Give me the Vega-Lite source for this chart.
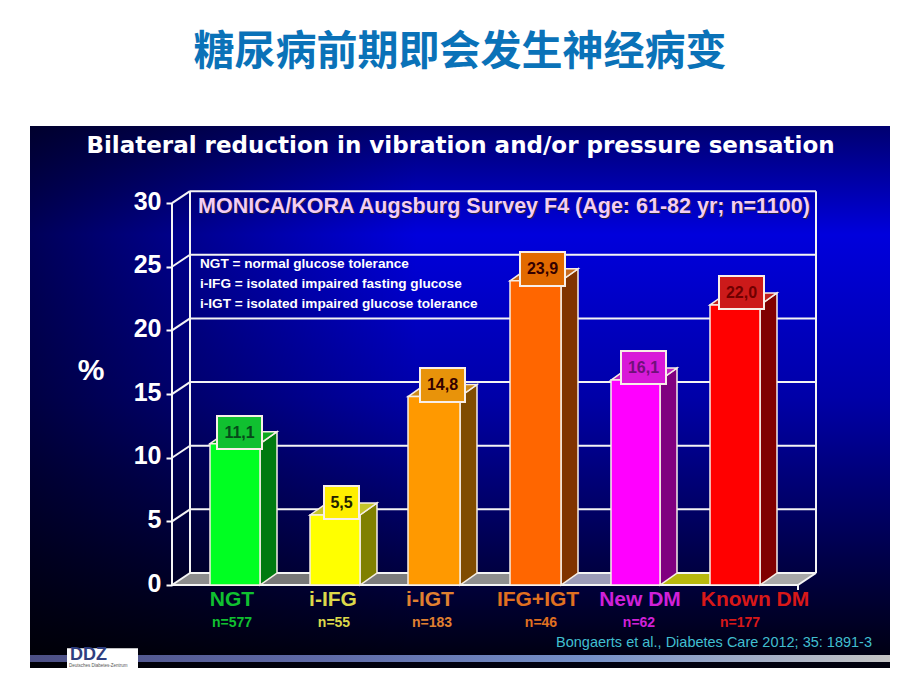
{
"$schema":"https://vega.github.io/schema/vega-lite/v6.json",
"width":860,"height":542,
"autosize":{"type":"none"},
"padding":{"left":30,"top":126,"right":30,"bottom":22},
"background":"#ffffff",
"view":{"stroke":null},
"title":{"text":"糖尿病前期即会发生神经病变","font":"Noto Sans CJK SC","fontSize":41,"fontWeight":"bold","color":"#0a72b8","anchor":"middle","offset":52},
"datasets":{
"panel":[{"a":-1.05,"b":7.55,"c":-6.52,"d":36.06}],
"strip":[{"a":-1.05,"b":7.55,"c":-5.5,"d":-6.05}],
"logo":[{"a":-0.68,"b":0.03,"c":-4.96,"d":-6.52}],
"lines":[
{"u":0.55,"u2":6.81,"v":0.943,"v2":0.943},{"u":0.55,"u2":6.81,"v":5.943,"v2":5.943},{"u":0.55,"u2":6.81,"v":10.943,"v2":10.943},{"u":0.55,"u2":6.81,"v":15.943,"v2":15.943},{"u":0.55,"u2":6.81,"v":20.943,"v2":20.943},{"u":0.55,"u2":6.81,"v":25.943,"v2":25.943},{"u":0.55,"u2":6.81,"v":30.943,"v2":30.943},
{"u":0.37,"u2":0.55,"v":0,"v2":0.943},{"u":0.37,"u2":0.55,"v":5,"v2":5.943},{"u":0.37,"u2":0.55,"v":10,"v2":10.943},{"u":0.37,"u2":0.55,"v":15,"v2":15.943},{"u":0.37,"u2":0.55,"v":20,"v2":20.943},{"u":0.37,"u2":0.55,"v":25,"v2":25.943},{"u":0.37,"u2":0.55,"v":30,"v2":30.943},
{"u":0.37,"u2":0.37,"v":0,"v2":30},{"u":0.55,"u2":0.55,"v":0.943,"v2":30.943},{"u":6.81,"u2":6.81,"v":0.943,"v2":30.943},{"u":6.63,"u2":6.81,"v":0,"v2":0.943},{"u":0.37,"u2":6.63,"v":0,"v2":0},{"u":6.63,"u2":6.63,"v":0,"v2":-0.4}],
"floor":[
{"face":"floor1","u":0.37,"v":0,"v0":0},{"face":"floor1","u":0.55,"v":0.943,"v0":0},{"face":"floor1","u":0.75,"v":0.943,"v0":0},
{"face":"floor2","u":1.25,"v":0,"v0":0},{"face":"floor2","u":1.42,"v":0.943,"v0":0},{"face":"floor2","u":1.75,"v":0.943,"v0":0},
{"face":"floor3","u":2.25,"v":0,"v0":0},{"face":"floor3","u":2.42,"v":0.943,"v0":0},{"face":"floor3","u":2.73,"v":0.943,"v0":0},
{"face":"floor4","u":3.25,"v":0,"v0":0},{"face":"floor4","u":3.42,"v":0.943,"v0":0},{"face":"floor4","u":3.75,"v":0.943,"v0":0},
{"face":"floor5","u":4.26,"v":0,"v0":0},{"face":"floor5","u":4.43,"v":0.943,"v0":0},{"face":"floor5","u":4.76,"v":0.943,"v0":0},
{"face":"floor6","u":5.25,"v":0,"v0":0},{"face":"floor6","u":5.42,"v":0.943,"v0":0},{"face":"floor6","u":5.75,"v":0.943,"v0":0},
{"face":"floor7","u":6.25,"v":0,"v0":0},{"face":"floor7","u":6.42,"v":0.943,"v0":0},{"face":"floor7","u":6.63,"v":0.943,"v0":0},{"face":"floor7","u":6.81,"v":0.943,"v0":0.943}],
"depth":[
{"face":"NGT side","u":1.25,"v":11.1,"v0":0},{"face":"NGT side","u":1.42,"v":12.043,"v0":0.943},
{"face":"NGT top","u":0.75,"v":11.1,"v0":11.1},{"face":"NGT top","u":0.92,"v":12.043,"v0":11.1},{"face":"NGT top","u":1.25,"v":12.043,"v0":11.1},{"face":"NGT top","u":1.42,"v":12.043,"v0":12.043},
{"face":"i-IFG side","u":2.25,"v":5.5,"v0":0},{"face":"i-IFG side","u":2.42,"v":6.443,"v0":0.943},
{"face":"i-IFG top","u":1.75,"v":5.5,"v0":5.5},{"face":"i-IFG top","u":1.92,"v":6.443,"v0":5.5},{"face":"i-IFG top","u":2.25,"v":6.443,"v0":5.5},{"face":"i-IFG top","u":2.42,"v":6.443,"v0":6.443},
{"face":"i-IGT side","u":3.25,"v":14.8,"v0":0},{"face":"i-IGT side","u":3.42,"v":15.743,"v0":0.943},
{"face":"i-IGT top","u":2.73,"v":14.8,"v0":14.8},{"face":"i-IGT top","u":2.9,"v":15.743,"v0":14.8},{"face":"i-IGT top","u":3.25,"v":15.743,"v0":14.8},{"face":"i-IGT top","u":3.42,"v":15.743,"v0":15.743},
{"face":"IFG+IGT side","u":4.26,"v":23.9,"v0":0},{"face":"IFG+IGT side","u":4.43,"v":24.843,"v0":0.943},
{"face":"IFG+IGT top","u":3.75,"v":23.9,"v0":23.9},{"face":"IFG+IGT top","u":3.92,"v":24.843,"v0":23.9},{"face":"IFG+IGT top","u":4.26,"v":24.843,"v0":23.9},{"face":"IFG+IGT top","u":4.43,"v":24.843,"v0":24.843},
{"face":"New DM side","u":5.25,"v":16.1,"v0":0},{"face":"New DM side","u":5.42,"v":17.043,"v0":0.943},
{"face":"New DM top","u":4.76,"v":16.1,"v0":16.1},{"face":"New DM top","u":4.93,"v":17.043,"v0":16.1},{"face":"New DM top","u":5.25,"v":17.043,"v0":16.1},{"face":"New DM top","u":5.42,"v":17.043,"v0":17.043},
{"face":"Known DM side","u":6.25,"v":22,"v0":0},{"face":"Known DM side","u":6.42,"v":22.943,"v0":0.943},
{"face":"Known DM top","u":5.75,"v":22,"v0":22},{"face":"Known DM top","u":5.92,"v":22.943,"v0":22},{"face":"Known DM top","u":6.25,"v":22.943,"v0":22},{"face":"Known DM top","u":6.42,"v":22.943,"v0":22.943}],
"bars":[
{"group":"NGT","value":11.1,"base":0,"start":0.75,"end":1.25},
{"group":"i-IFG","value":5.5,"base":0,"start":1.75,"end":2.25},
{"group":"i-IGT","value":14.8,"base":0,"start":2.73,"end":3.25},
{"group":"IFG+IGT","value":23.9,"base":0,"start":3.75,"end":4.26},
{"group":"New DM","value":16.1,"base":0,"start":4.76,"end":5.25},
{"group":"Known DM","value":22.0,"base":0,"start":5.75,"end":6.25}],
"boxes":[
{"face":"NGT box","ink":"NGT ink","label":"11,1","a":0.82,"b":1.27,"c":10.68,"d":13.28,"xc":1.045,"yc":11.98},
{"face":"i-IFG box","ink":"i-IFG ink","label":"5,5","a":1.89,"b":2.24,"c":5.18,"d":7.78,"xc":2.065,"yc":6.48},
{"face":"i-IGT box","ink":"i-IGT ink","label":"14,8","a":2.85,"b":3.30,"c":14.38,"d":17.05,"xc":3.075,"yc":15.71},
{"face":"IFG+IGT box","ink":"IFG+IGT ink","label":"23,9","a":3.85,"b":4.30,"c":23.49,"d":26.16,"xc":4.075,"yc":24.82},
{"face":"New DM box","ink":"New DM ink","label":"16,1","a":4.86,"b":5.31,"c":15.79,"d":18.38,"xc":5.085,"yc":17.08},
{"face":"Known DM box","ink":"Known DM ink","label":"22,0","a":5.84,"b":6.29,"c":21.68,"d":24.27,"xc":6.065,"yc":22.97}],
"groupLabels":[
{"face":"NGT label","label":"NGT","xc":0.97,"n":"n=577","nx":0.97},
{"face":"i-IFG label","label":"i-IFG","xc":1.98,"n":"n=55","nx":1.99},
{"face":"i-IGT label","label":"i-IGT","xc":2.95,"n":"n=183","nx":2.97},
{"face":"IFG+IGT label","label":"IFG+IGT","xc":4.03,"n":"n=46","nx":4.06},
{"face":"New DM label","label":"New DM","xc":5.05,"n":"n=62","nx":5.04},
{"face":"Known DM label","label":"Known DM","xc":6.2,"n":"n=177","nx":6.05}],
"legendText":[
{"label":"NGT = normal glucose tolerance","xc":0.65,"yc":25.2},
{"label":"i-IFG = isolated impaired fasting glucose","xc":0.65,"yc":23.65},
{"label":"i-IGT = isolated impaired glucose tolerance","xc":0.65,"yc":22.08}]
},
"encoding":{},
"layer":[
{"data":{"name":"panel"},"mark":{"type":"rect","fill":{"gradient":"linear","x1":0,"y1":0,"x2":0,"y2":1,"stops":[{"offset":0,"color":"#000070"},{"offset":0.2,"color":"#0000dc"},{"offset":0.5,"color":"#0000a8"},{"offset":0.8,"color":"#000048"},{"offset":1,"color":"#00000c"}]}},
"encoding":{"x":{"field":"a","type":"quantitative","scale":{"domain":[-1.05,7.55],"nice":false,"zero":false},"axis":null},"x2":{"field":"b"},"y":{"field":"c","type":"quantitative","scale":{"domain":[-6.52,36.06],"nice":false,"zero":false},"axis":{"values":[0,5,10,15,20,25,30],"title":null,"domain":false,"grid":false,"offset":-142,"zindex":1,"tickColor":"#ffffff","tickWidth":2,"tickSize":6,"labelColor":"#ffffff","labelFont":"Liberation Sans","labelFontWeight":"bold","labelFontSize":25,"labelPadding":5,"labelOffset":-2,"labelFlush":false,"labelOverlap":false}},"y2":{"field":"d"}}},
{"data":{"name":"panel"},"mark":{"type":"rect","fill":{"gradient":"linear","x1":0,"y1":0,"x2":1,"y2":0,"stops":[{"offset":0,"color":"rgba(0,0,0,0.6)"},{"offset":0.45,"color":"rgba(0,0,0,0)"},{"offset":1,"color":"rgba(0,0,0,0)"}]}},
"encoding":{"x":{"field":"a","type":"quantitative"},"x2":{"field":"b"},"y":{"field":"c","type":"quantitative"},"y2":{"field":"d"}}},
{"data":{"name":"strip"},"mark":{"type":"rect","fill":{"gradient":"linear","x1":0,"y1":0,"x2":1,"y2":0,"stops":[{"offset":0,"color":"#4c4f85"},{"offset":0.35,"color":"#5f6ba8"},{"offset":0.65,"color":"#7590c8"},{"offset":1,"color":"#c4c4c4"}]}},
"encoding":{"x":{"field":"a","type":"quantitative"},"x2":{"field":"b"},"y":{"field":"c","type":"quantitative"},"y2":{"field":"d"}}},
{"data":{"name":"floor"},"mark":{"type":"area","clip":false},
"encoding":{"x":{"field":"u","type":"quantitative"},"y":{"field":"v","type":"quantitative"},"y2":{"field":"v0"},"detail":{"field":"face"},"color":{"field":"face","type":"nominal","legend":null,"scale":{
"domain":["floor1","floor2","floor3","floor4","floor5","floor6","floor7","NGT","i-IFG","i-IGT","IFG+IGT","New DM","Known DM","NGT side","i-IFG side","i-IGT side","IFG+IGT side","New DM side","Known DM side","NGT top","i-IFG top","i-IGT top","IFG+IGT top","New DM top","Known DM top","NGT box","i-IFG box","i-IGT box","IFG+IGT box","New DM box","Known DM box","NGT ink","i-IFG ink","i-IGT ink","IFG+IGT ink","New DM ink","Known DM ink","NGT label","i-IFG label","i-IGT label","IFG+IGT label","New DM label","Known DM label"],
"range":["#8c8c8c","#777777","#7c7c7c","#8e8e8e","#9c9cb8","#b8b80e","#a8a8a8","#00ff22","#ffff00","#ff9900","#ff6600","#ff00ff","#ff0000","#007a10","#808000","#804c00","#803300","#800080","#800000","#0aa81e","#c4c42a","#cc8a1a","#c46a20","#c020c0","#c02020","#10c030","#ffee00","#e8930a","#e26a00","#d81ad8","#cc1a1a","#064a1a","#222200","#330000","#330000","#70107a","#700000","#10c030","#dcd84a","#e08030","#e07020","#d020d8","#d81818"]}}}},
{"data":{"name":"lines"},"mark":{"type":"rule","color":"#f4f4f4","strokeWidth":2},
"encoding":{"x":{"field":"u","type":"quantitative"},"x2":{"field":"u2"},"y":{"field":"v","type":"quantitative"},"y2":{"field":"v2"}}},
{"data":{"name":"depth"},"mark":{"type":"area","stroke":"#f6eee6","strokeWidth":1.5},
"encoding":{"x":{"field":"u","type":"quantitative"},"y":{"field":"v","type":"quantitative"},"y2":{"field":"v0"},"detail":{"field":"face"},"color":{"field":"face","type":"nominal","legend":null}}},
{"data":{"name":"bars"},"mark":{"type":"rect","stroke":"#f6eee6","strokeWidth":1.5},
"encoding":{"x":{"field":"start","type":"quantitative"},"x2":{"field":"end"},"y":{"field":"value","type":"quantitative"},"y2":{"field":"base"},"color":{"field":"group","type":"nominal","legend":null}}},
{"data":{"name":"boxes"},"mark":{"type":"rect","stroke":"#f8eee8","strokeWidth":2},
"encoding":{"x":{"field":"a","type":"quantitative"},"x2":{"field":"b"},"y":{"field":"c","type":"quantitative"},"y2":{"field":"d"},"color":{"field":"face","type":"nominal","legend":null}}},
{"data":{"name":"boxes"},"mark":{"type":"text","font":"Liberation Sans","fontWeight":"bold","fontSize":16,"align":"center","baseline":"middle"},
"encoding":{"x":{"field":"xc","type":"quantitative"},"y":{"field":"yc","type":"quantitative"},"text":{"field":"label"},"color":{"field":"ink","type":"nominal","legend":null}}},
{"data":{"name":"groupLabels"},"mark":{"type":"text","font":"Liberation Sans","fontWeight":"bold","fontSize":21,"align":"center","baseline":"middle"},
"encoding":{"x":{"field":"xc","type":"quantitative"},"y":{"datum":-1.18,"type":"quantitative"},"text":{"field":"label"},"color":{"field":"face","type":"nominal","legend":null}}},
{"data":{"name":"groupLabels"},"mark":{"type":"text","font":"Liberation Sans","fontWeight":"bold","fontSize":14,"align":"center","baseline":"middle"},
"encoding":{"x":{"field":"nx","type":"quantitative"},"y":{"datum":-2.98,"type":"quantitative"},"text":{"field":"n"},"color":{"field":"face","type":"nominal","legend":null}}},
{"data":{"name":"legendText"},"mark":{"type":"text","font":"Liberation Sans","fontWeight":"bold","fontSize":13.6,"align":"left","baseline":"middle","color":"#ffffff"},
"encoding":{"x":{"field":"xc","type":"quantitative"},"y":{"field":"yc","type":"quantitative"},"text":{"field":"label"}}},
{"data":{"values":[{"label":"Bilateral reduction in vibration and/or pressure sensation"}]},"mark":{"type":"text","font":"DejaVu Sans","fontWeight":"bold","fontSize":23,"align":"center","baseline":"middle","color":"#ffffff"},
"encoding":{"x":{"datum":3.255,"type":"quantitative"},"y":{"datum":34.48,"type":"quantitative"},"text":{"field":"label"}}},
{"data":{"values":[{"label":"MONICA/KORA Augsburg Survey F4 (Age: 61-82 yr; n=1100)"}]},"mark":{"type":"text","font":"Liberation Sans","fontWeight":"bold","fontSize":21.5,"align":"left","baseline":"middle","color":"#202040","dx":1,"dy":1},
"encoding":{"x":{"datum":0.63,"type":"quantitative"},"y":{"datum":29.7,"type":"quantitative"},"text":{"field":"label"}}},
{"data":{"values":[{"label":"MONICA/KORA Augsburg Survey F4 (Age: 61-82 yr; n=1100)"}]},"mark":{"type":"text","font":"Liberation Sans","fontWeight":"bold","fontSize":21.5,"align":"left","baseline":"middle","color":"#f4cdf4"},
"encoding":{"x":{"datum":0.63,"type":"quantitative"},"y":{"datum":29.7,"type":"quantitative"},"text":{"field":"label"}}},
{"data":{"values":[{"label":"%"}]},"mark":{"type":"text","font":"Liberation Sans","fontWeight":"bold","fontSize":30,"align":"center","baseline":"middle","color":"#ffffff"},
"encoding":{"x":{"datum":-0.44,"type":"quantitative"},"y":{"datum":16.8,"type":"quantitative"},"text":{"field":"label"}}},
{"data":{"values":[{"label":"Bongaerts et al., Diabetes Care 2012; 35: 1891-3"}]},"mark":{"type":"text","font":"Liberation Sans","fontSize":14.5,"align":"right","baseline":"middle","color":"#40bfd0"},
"encoding":{"x":{"datum":7.37,"type":"quantitative"},"y":{"datum":-4.56,"type":"quantitative"},"text":{"field":"label"}}},
{"data":{"name":"logo"},"mark":{"type":"rect","fill":"#ffffff"},
"encoding":{"x":{"field":"a","type":"quantitative"},"x2":{"field":"b"},"y":{"field":"c","type":"quantitative"},"y2":{"field":"d"}}},
{"data":{"values":[{"label":"DDZ"}]},"mark":{"type":"text","font":"Liberation Sans","fontWeight":"bold","fontSize":18,"align":"left","baseline":"middle","color":"#2f3f80"},
"encoding":{"x":{"datum":-0.65,"type":"quantitative"},"y":{"datum":-5.5,"type":"quantitative"},"text":{"field":"label"}}},
{"data":{"values":[{"label":"Deutsches Diabetes-Zentrum"}]},"mark":{"type":"text","font":"Liberation Sans","fontSize":4.5,"align":"left","baseline":"middle","color":"#555555"},
"encoding":{"x":{"datum":-0.66,"type":"quantitative"},"y":{"datum":-6.4,"type":"quantitative"},"text":{"field":"label"}}}
]
}
